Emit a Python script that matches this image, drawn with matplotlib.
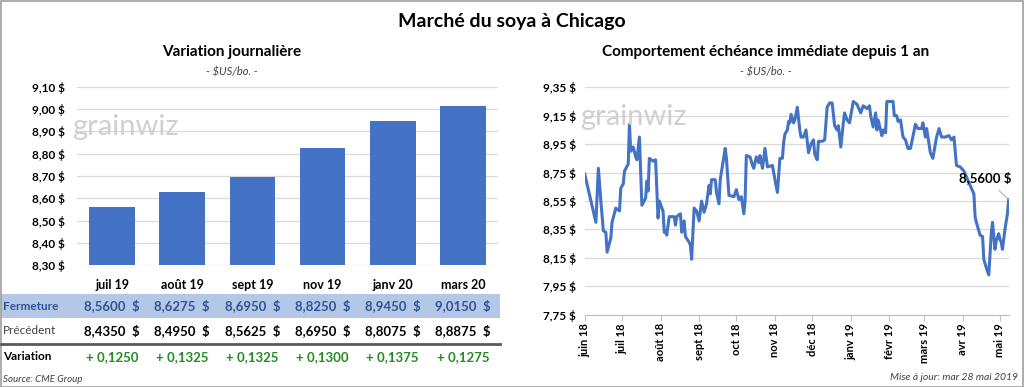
import numpy as np
import pandas as pd
import matplotlib.pyplot as plt
import matplotlib.transforms as mtransforms
from matplotlib.patches import Rectangle
from matplotlib.lines import Line2D

plt.rcParams['font.family'] = ['Lato', 'DejaVu Sans']

# left panel data
contracts = ['juil 19', 'août 19', 'sept 19', 'nov 19', 'janv 20', 'mars 20']
closing = [8.5600, 8.6275, 8.6950, 8.8250, 8.9450, 9.0150]
previous = [8.4350, 8.4950, 8.5625, 8.6950, 8.8075, 8.8875]
change = [0.1250, 0.1325, 0.1325, 0.1300, 0.1375, 0.1275]

# right panel data: days since 2018-06-01, nearby futures price
days = [0, 9, 11, 13, 15, 17, 18, 21, 22, 25, 28, 29, 31, 32, 35, 36, 37, 39, 41, 42,
        44, 46, 49, 50, 51, 52, 55, 57, 59, 60, 63, 64, 65, 66, 68, 72, 73, 74, 77, 78,
        80, 81, 84, 85, 86, 88, 90, 92, 94, 96, 98, 100, 101, 102, 105, 106, 108, 109, 113, 114,
        116, 120, 122, 124, 126, 128, 129, 130, 133, 135, 136, 138, 140, 141, 143, 145, 147, 151, 153, 155,
        157, 159, 160, 161, 163, 164, 165, 166, 168, 169, 171, 173, 174, 176, 178, 180, 182, 184, 185, 187,
        188, 191, 193, 195, 197, 199, 201, 203, 204, 206, 208, 209, 211, 213, 216, 219, 220, 222, 224, 227,
        229, 230, 232, 234, 235, 236, 239, 240, 242, 243, 248, 249, 251, 252, 254, 256, 258, 260, 262, 266,
        268, 271, 272, 274, 275, 278, 280, 283, 285, 287, 290, 293, 295, 297, 299, 302, 305, 307, 310, 313,
        314, 315, 318, 320, 321, 323, 325, 327, 328, 330, 331, 333, 334, 335, 336, 338, 340, 341]
prices = [8.74, 8.40, 8.78, 8.55, 8.34, 8.33, 8.19, 8.29, 8.40, 8.50, 8.48, 8.64, 8.67, 8.76, 8.81, 9.09, 8.90, 8.93, 8.86, 8.84,
          9.00, 8.52, 8.57, 8.69, 8.62, 8.85, 8.83, 8.84, 8.43, 8.55, 8.48, 8.33, 8.34, 8.31, 8.44, 8.44, 8.38, 8.44, 8.46, 8.33,
          8.41, 8.30, 8.26, 8.24, 8.14, 8.50, 8.48, 8.41, 8.55, 8.47, 8.53, 8.66, 8.60, 8.70, 8.70, 8.61, 8.53, 8.70, 8.92, 8.85,
          8.59, 8.58, 8.63, 8.56, 8.58, 8.46, 8.55, 8.87, 8.86, 8.80, 8.78, 8.86, 8.82, 8.87, 8.78, 8.92, 8.79, 8.80, 8.70, 8.61,
          8.85, 8.85, 8.96, 9.02, 9.05, 9.11, 9.10, 9.16, 9.10, 9.12, 9.21, 9.05, 9.00, 9.00, 9.05, 8.89, 8.95, 8.98, 8.88, 8.84,
          8.97, 8.97, 8.98, 9.21, 9.24, 9.24, 9.08, 9.05, 9.08, 8.93, 9.10, 9.17, 9.12, 9.10, 9.25, 9.23, 9.21, 9.17, 9.22, 9.20,
          9.22, 9.15, 9.07, 9.17, 9.05, 9.12, 9.01, 9.05, 9.03, 9.25, 9.25, 9.15, 9.15, 9.11, 9.12, 9.00, 8.98, 8.92, 8.92, 9.09,
          9.06, 9.06, 9.10, 9.00, 9.06, 8.89, 8.85, 9.00, 9.06, 9.00, 9.00, 9.01, 8.98, 9.00, 8.80, 8.79, 8.76, 8.72, 8.66, 8.60,
          8.44, 8.40, 8.31, 8.30, 8.14, 8.08, 8.03, 8.32, 8.40, 8.21, 8.27, 8.32, 8.28, 8.26, 8.21, 8.35, 8.46, 8.56]
month_labels = ['juin 18', 'juil 18', 'août 18', 'sept 18', 'oct 18', 'nov 18', 'déc 18',
                'janv 19', 'févr 19', 'mars 19', 'avr 19', 'mai 19']

blue = '#4472C4'
grid_c = '#D9D9D9'
W, H = 1024, 387

fig = plt.figure(figsize=(W / 100, H / 100), dpi=100)
fig.patches.append(Rectangle((0.5 / W, 0.5 / H), 1 - 1.5 / W, 1 - 1.5 / H, transform=fig.transFigure,
                             fill=False, edgecolor='#9E9E9E', lw=1.2))

def fx(px):
    return px / W

def fy(py):
    return 1 - py / H

fig.text(0.5, fy(22), 'Marché du soya à Chicago', ha='center', va='center', fontsize=14, fontweight='bold')

# ---- left panel: bars ----
ax1 = fig.add_axes([fx(77), fy(265), fx(498) - fx(77), fy(87) - fy(265)])
x = np.arange(len(contracts))
ax1.bar(x, np.array(closing) - 8.30, bottom=8.30, width=0.65, color=blue, zorder=3)
ax1.set_xlim(-0.5, len(contracts) - 0.5)
ax1.set_ylim(8.30, 9.10)
yt = np.round(np.arange(8.30, 9.101, 0.10), 2)
ax1.set_yticks(yt)
ax1.set_yticklabels([f'{v:.2f} $'.replace('.', ',') for v in yt], fontsize=8.5, fontweight='bold')
ax1.set_xticks(x)
ax1.set_xticklabels(contracts, fontsize=9, fontweight='bold')
ax1.tick_params(axis='both', length=0)
ax1.tick_params(axis='x', pad=10)
ax1.tick_params(axis='y', pad=9)
ax1.grid(axis='y', color=grid_c, lw=0.9, zorder=0)
for s in ax1.spines.values():
    s.set_visible(False)

fig.text(fx(232), fy(52), 'Variation journalière', ha='center', va='center', fontsize=11, fontweight='bold')
fig.text(fx(232), fy(72), '- $US/bo. -', ha='center', va='center', fontsize=8, style='italic', color='#404040')
fig.text(fx(72), fy(127), 'grainwiz', ha='left', va='center', fontsize=21, color='#D0D0D0', zorder=0)

# table below the bars
fig.patches.append(Rectangle((fx(1), fy(318)), fx(500) - fx(1), fy(294) - fy(318),
                             transform=fig.transFigure, facecolor='#B4C7E7', edgecolor='none', zorder=-1))
fig.lines.append(Line2D([fx(1), fx(500)], [fy(344), fy(344)], transform=fig.transFigure,
                        color='#595959', lw=2))
tr = mtransforms.blended_transform_factory(ax1.transData, fig.transFigure)
fig.text(fx(3), fy(306), 'Fermeture', ha='left', va='center', fontsize=8.5, fontweight='bold', color='#2F5597')
fig.text(fx(3), fy(331), 'Précédent', ha='left', va='center', fontsize=8.5, color='#404040')
fig.text(fx(3), fy(357), 'Variation', ha='left', va='center', fontsize=8.5, fontweight='bold')
for i in range(len(contracts)):
    fig.text(i, fy(306), f'{closing[i]:.4f}  $'.replace('.', ','), transform=tr, ha='center', va='center',
             fontsize=9.5, fontweight='bold', color='#2F5597')
    fig.text(i, fy(331), f'{previous[i]:.4f}  $'.replace('.', ','), transform=tr, ha='center', va='center',
             fontsize=9.5, fontweight='bold', color='black')
    fig.text(i, fy(357), f'+ {change[i]:.4f}'.replace('.', ','), transform=tr, ha='center', va='center',
             fontsize=9.5, fontweight='bold', color='#228B22')
fig.text(fx(3), fy(379), 'Source: CME Group', ha='left', va='center', fontsize=7, style='italic', color='#404040')

# ---- right panel: line ----
start = pd.Timestamp('2018-06-01')
dates = start + pd.to_timedelta(days, unit='D')
ax2 = fig.add_axes([fx(584.7), fy(314.7), fx(1009.3) - fx(584.7), fy(87.3) - fy(314.7)])
ax2.plot(dates, prices, color=blue, lw=2.2, zorder=3)
ax2.set_xlim(start, start + pd.Timedelta(days=341.5))
ax2.set_ylim(7.75, 9.35)
yt2 = np.round(np.arange(7.75, 9.351, 0.20), 2)
ax2.set_yticks(yt2)
ax2.set_yticklabels([f'{v:.2f} $'.replace('.', ',') for v in yt2], fontsize=8.5, fontweight='bold')
month_ticks = pd.date_range('2018-06-01', periods=len(month_labels), freq='MS')
ax2.set_xticks(month_ticks)
ax2.set_xticklabels(month_labels, rotation=90, fontsize=8, fontweight='bold')
ax2.tick_params(axis='y', length=0, pad=6)
ax2.tick_params(axis='x', length=4, color='#BFBFBF', pad=2)
ax2.grid(axis='y', color=grid_c, lw=0.9, zorder=0)
for k in ['top', 'right', 'left']:
    ax2.spines[k].set_visible(False)
ax2.spines['bottom'].set_color('#BFBFBF')

ax2.annotate(f'{prices[-1]:.4f} $'.replace('.', ','), xy=(dates[-1], prices[-1]), xytext=(-17, 16),
             textcoords='offset points', ha='center', va='center', fontsize=9.5, fontweight='bold',
             arrowprops=dict(arrowstyle='-', color='#A6A6A6', lw=0.7, shrinkA=4, shrinkB=0))

fig.text(fx(766), fy(52), 'Comportement échéance immédiate depuis 1 an', ha='center', va='center',
         fontsize=11, fontweight='bold')
fig.text(fx(766), fy(72), '- $US/bo. -', ha='center', va='center', fontsize=8, style='italic', color='#404040')
fig.text(fx(580), fy(117), 'grainwiz', ha='left', va='center', fontsize=21, color='#D0D0D0', zorder=0)
fig.text(fx(1018), fy(378), 'Mise à jour: mar 28 mai 2019', ha='right', va='center', fontsize=7.5,
         style='italic', color='#404040')

fig.savefig('out.png', dpi=100)
